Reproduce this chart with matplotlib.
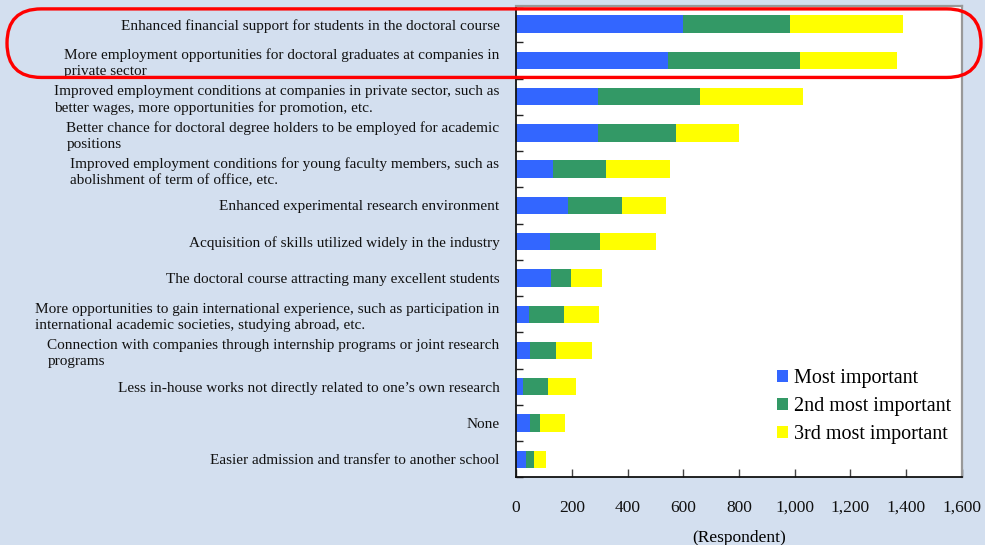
import matplotlib.pyplot as plt
import numpy as np
from matplotlib.patches import FancyBboxPatch, Patch
from matplotlib.transforms import IdentityTransform
from matplotlib.ticker import FuncFormatter

# Measures expected to boost enrolment in doctoral courses (top three choices)
categories = [
    'Enhanced financial support for students in the doctoral course',
    'More employment opportunities for doctoral graduates at companies in\nprivate sector',
    'Improved employment conditions at companies in private sector, such as\nbetter wages, more opportunities for promotion, etc.',
    'Better chance for doctoral degree holders to be employed for academic\npositions',
    'Improved employment conditions for young faculty members, such as\nabolishment of term of office, etc.',
    'Enhanced experimental research environment',
    'Acquisition of skills utilized widely in the industry',
    'The doctoral course attracting many excellent students',
    'More opportunities to gain international experience, such as participation in\ninternational academic societies, studying abroad, etc.',
    'Connection with companies through internship programs or joint research\nprograms',
    'Less in-house works not directly related to one\u2019s own research',
    'None',
    'Easier admission and transfer to another school',
]
most_important = [598, 546, 294, 294, 132, 187, 122, 124, 47, 50, 24, 50, 36]
second_important = [385, 473, 366, 280, 191, 193, 179, 73, 125, 94, 91, 36, 29]
third_important = [406, 349, 369, 226, 230, 158, 202, 112, 126, 129, 100, 90, 43]
series_names = ['Most important', '2nd most important', '3rd most important']
x_ticks = [0, 200, 400, 600, 800, 1000, 1200, 1400, 1600]

BG = '#D3DFEF'
COLORS = ['#3366FF', '#339966', '#FFFF00']
FONT = 'Liberation Serif'

plt.rcParams['font.family'] = FONT

fig = plt.figure(figsize=(9.85, 5.45), dpi=100, facecolor=BG)
ax = fig.add_axes([0.524, 0.124, 0.4525, 0.865])
ax.set_facecolor('white')

y = np.arange(len(categories))
left = np.zeros(len(categories))
for vals, color, name in zip([most_important, second_important, third_important], COLORS, series_names):
    ax.barh(y, vals, left=left, height=0.48, color=color, label=name, linewidth=0)
    left += np.array(vals)

ax.set_xlim(0, 1600)
ax.set_ylim(len(categories) - 0.5, -0.5)

# category labels on centres, tick marks on the band edges
ax.set_yticks(y)
ax.set_yticklabels(categories, fontsize=11)
for lab in ax.get_yticklabels():
    lab.set_multialignment('left')
    lab.set_linespacing(1.3)
ax.set_yticks(np.arange(len(categories) + 1) - 0.5, minor=True)
ax.tick_params(axis='y', which='major', length=0, pad=12, colors='#111111')
ax.tick_params(axis='y', which='minor', direction='in', length=5, width=1, color='#222222')

ax.set_xticks(x_ticks)
ax.xaxis.set_major_formatter(FuncFormatter(lambda v, p: f'{int(v):,}'))
ax.tick_params(axis='x', direction='in', length=6, width=1, pad=16, labelsize=12.5, colors='#111111', color='#444444')
ax.set_xlabel('(Respondent)', fontsize=12.5, labelpad=10)

for side in ['left', 'bottom']:
    ax.spines[side].set_color('#111111')
    ax.spines[side].set_linewidth(1.3)
for side in ['top', 'right']:
    ax.spines[side].set_color('#999999')
    ax.spines[side].set_linewidth(1.6)

handles = [Patch(facecolor=c, edgecolor='none') for c in COLORS]
ax.legend(handles, series_names, loc='lower right', bbox_to_anchor=(1.008, 0.04),
          frameon=False, fontsize=14.5, handlelength=0.55, handleheight=0.55,
          handletextpad=0.3, labelspacing=0.45, borderaxespad=0.3)

# red pill around the two leading answers
y_top = ax.transData.transform((0, -0.42))[1]
y_bot = ax.transData.transform((0, 1.47))[1]
W = fig.get_figwidth() * fig.dpi
x0, x1 = 7, W - 4
h = y_top - y_bot
pill = FancyBboxPatch((x0, y_bot), x1 - x0, h,
                      boxstyle=f'round,pad=0,rounding_size={h / 2}',
                      transform=IdentityTransform(), facecolor='none',
                      edgecolor='#FF0000', linewidth=2.4, clip_on=False, zorder=10)
fig.add_artist(pill)

fig.savefig('out.png', dpi=100, facecolor=BG)
